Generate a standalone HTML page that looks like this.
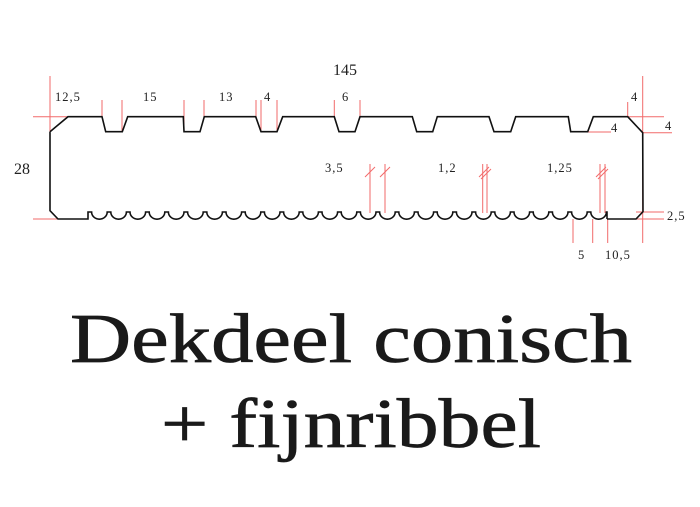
<!DOCTYPE html>
<html><head><meta charset="utf-8"><style>
html,body{margin:0;padding:0;background:#fff;}
svg{display:block;}
.s{font-family:"Liberation Serif",serif;font-size:12.5px;fill:#222;letter-spacing:1px;}
</style></head><body>
<svg width="700" height="507" viewBox="0 0 700 507" xmlns="http://www.w3.org/2000/svg">
<g stroke="#f26a6a" stroke-width="1" fill="none">
<line x1="50" y1="76" x2="50" y2="145"/>
<line x1="33" y1="116.7" x2="72" y2="116.7"/>
<line x1="33" y1="219" x2="72" y2="219"/>
<line x1="102" y1="100" x2="102" y2="117"/><line x1="122" y1="100" x2="122" y2="131"/>
<line x1="184" y1="100" x2="184" y2="131"/><line x1="204" y1="100" x2="204" y2="117"/>
<line x1="256" y1="100" x2="256" y2="117"/><line x1="261" y1="100" x2="261" y2="131"/><line x1="277" y1="100" x2="277" y2="131"/>
<line x1="334.3" y1="100" x2="334.3" y2="117"/><line x1="360" y1="100" x2="360" y2="117"/>
<line x1="627.7" y1="102" x2="627.7" y2="117"/>
<line x1="642.7" y1="76" x2="642.7" y2="243"/>
<line x1="627" y1="116.7" x2="664" y2="116.7"/>
<line x1="642" y1="132.7" x2="672" y2="132.7"/>
<line x1="587" y1="132" x2="611" y2="132"/>
<line x1="636" y1="212" x2="664" y2="212"/>
<line x1="636" y1="219" x2="664" y2="219"/>
<line x1="573" y1="219" x2="573" y2="243"/><line x1="592.7" y1="219" x2="592.7" y2="243"/><line x1="607.7" y1="219" x2="607.7" y2="243"/>
<line x1="370" y1="164" x2="370" y2="213"/><line x1="385" y1="164" x2="385" y2="213"/>
<line x1="482.7" y1="164" x2="482.7" y2="213"/><line x1="487" y1="164" x2="487" y2="213"/>
<line x1="600" y1="164" x2="600" y2="213"/><line x1="605" y1="164" x2="605" y2="213"/>
<line x1="365" y1="177" x2="375" y2="167"/><line x1="380" y1="177" x2="390" y2="167"/>
<line x1="479" y1="177" x2="489" y2="167"/><line x1="481" y1="179" x2="491" y2="169"/>
<line x1="596" y1="177" x2="606" y2="167"/><line x1="598" y1="179" x2="608" y2="169"/>
</g>
<path fill="none" stroke="#111" stroke-width="1.6" stroke-linejoin="miter" d="
M50 131.7 L68 116.7 L102 116.7 L105.7 131.7 L122.3 131.7 L127.7 116.7
L183.3 116.7 L184 131.7 L200 131.7 L204.3 116.7
L255.7 116.7 L261 131.7 L277 131.7 L282.7 116.7
L334.3 116.7 L339 131.7 L355 131.7 L360 116.7
L412.3 116.7 L416.7 131.7 L432.7 131.7 L437.3 116.7
L489 116.7 L494 131.7 L510.7 131.7 L515.7 116.7
L568.3 116.7 L570.7 131.7 L587.7 131.7 L593.3 116.7
L627.7 116.7 L642.7 132.7 L643 211.7 L636 219 L607 219
M50 131.7 L50 210.7 L58 219 L88 219 L88 212
h3.6 a7.8 7.2 0 0 0 15.6 0 h3.6 a7.8 7.2 0 0 0 15.6 0 h3.6 a7.8 7.2 0 0 0 15.6 0 h3.6 a7.8 7.2 0 0 0 15.6 0
h3.6 a7.8 7.2 0 0 0 15.6 0 h3.6 a7.8 7.2 0 0 0 15.6 0 h3.6 a7.8 7.2 0 0 0 15.6 0 h3.6 a7.8 7.2 0 0 0 15.6 0
h3.6 a7.8 7.2 0 0 0 15.6 0 h3.6 a7.8 7.2 0 0 0 15.6 0 h3.6 a7.8 7.2 0 0 0 15.6 0 h3.6 a7.8 7.2 0 0 0 15.6 0
h3.6 a7.8 7.2 0 0 0 15.6 0 h3.6 a7.8 7.2 0 0 0 15.6 0 h3.6 a7.8 7.2 0 0 0 15.6 0 h3.6 a7.8 7.2 0 0 0 15.6 0
h3.6 a7.8 7.2 0 0 0 15.6 0 h3.6 a7.8 7.2 0 0 0 15.6 0 h3.6 a7.8 7.2 0 0 0 15.6 0 h3.6 a7.8 7.2 0 0 0 15.6 0
h3.6 a7.8 7.2 0 0 0 15.6 0 h3.6 a7.8 7.2 0 0 0 15.6 0 h3.6 a7.8 7.2 0 0 0 15.6 0 h3.6 a7.8 7.2 0 0 0 15.6 0
h3.6 a7.8 7.2 0 0 0 15.6 0 h3.6 a7.8 7.2 0 0 0 15.6 0 h3.6 a7.8 7.2 0 0 0 15.6 0 L607 212 L607 219"/>
<g class="s">
<text x="55" y="101">12,5</text>
<text x="143" y="101">15</text>
<text x="219" y="101">13</text>
<text x="264" y="101">4</text>
<text x="342" y="101">6</text>
<text x="325" y="172">3,5</text>
<text x="438" y="172">1,2</text>
<text x="547" y="172">1,25</text>
<text x="631" y="101">4</text>
<text x="611" y="132">4</text>
<text x="665" y="130">4</text>
<text x="667" y="220">2,5</text>
<text x="578" y="259">5</text>
<text x="605" y="259">10,5</text>
</g>
<text x="333" y="75" font-family="Liberation Serif,serif" font-size="16" fill="#222">145</text>
<text x="14" y="174" font-family="Liberation Serif,serif" font-size="16" fill="#222">28</text>
<g font-family="Liberation Serif,serif" font-size="70" fill="#1a1a1a" stroke="#1a1a1a" stroke-width="0.7" text-anchor="middle">
<text x="351" y="362" textLength="562" lengthAdjust="spacingAndGlyphs">Dekdeel conisch</text>
<text x="351" y="447" textLength="380" lengthAdjust="spacingAndGlyphs">+ fijnribbel</text>
</g>
</svg>
</body></html>
